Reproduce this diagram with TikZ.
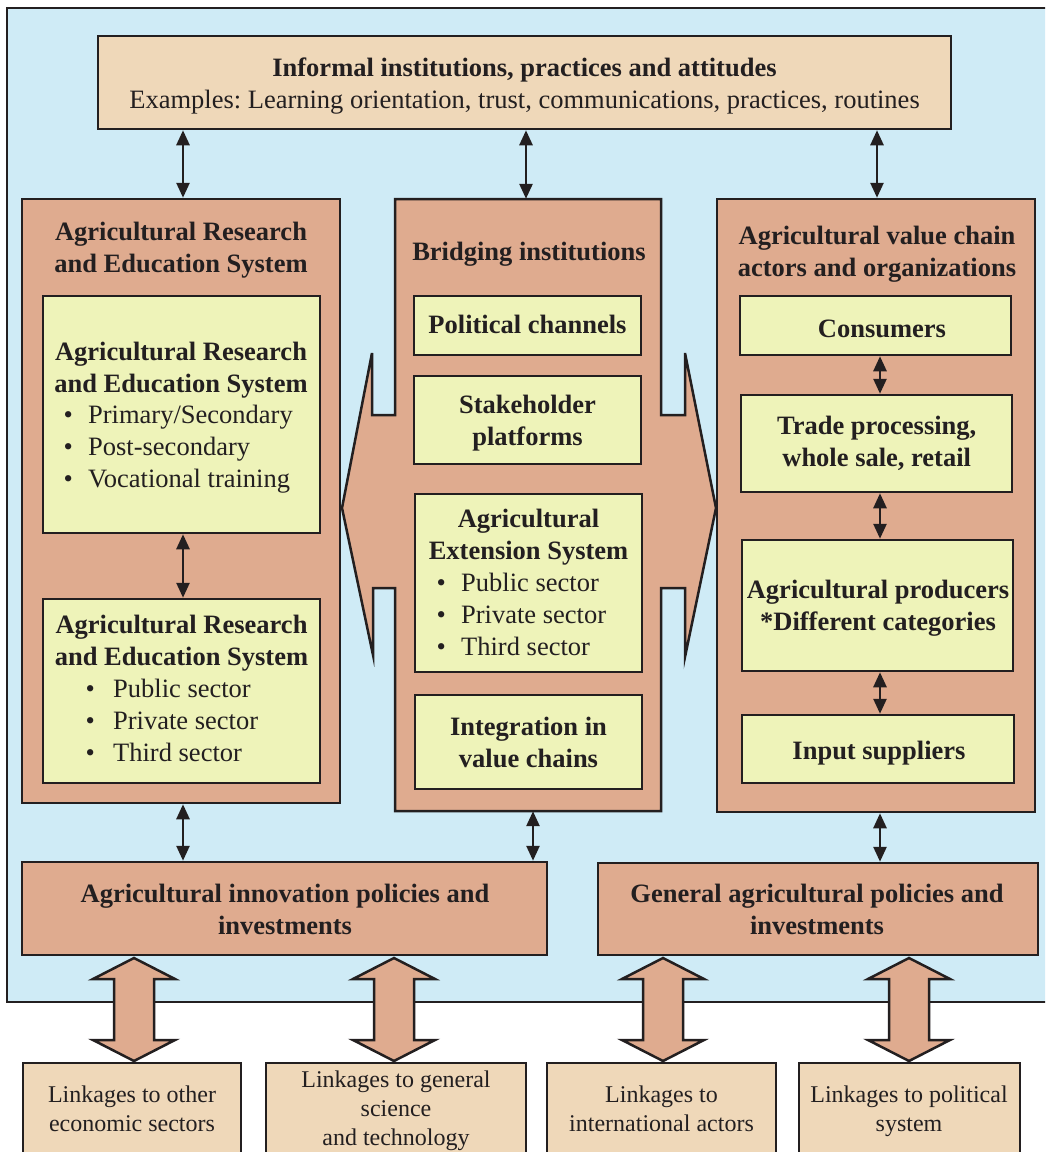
\documentclass[tikz,border=0pt]{standalone}
\usepackage{fontspec}
\setmainfont{Liberation Serif}
\usetikzlibrary{arrows.meta}
\definecolor{bluebg}{HTML}{CFEBF6}
\definecolor{wheatc}{HTML}{EFD8B9}
\definecolor{salmonc}{HTML}{DFAB8F}
\definecolor{yellowc}{HTML}{EEF3B9}
\definecolor{darkc}{HTML}{231F20}
\newcommand\mybul[2]{\makebox[#1][l]{\textbullet}#2}
\frenchspacing
\begin{document}
\begin{tikzpicture}[x=1pt,y=-1pt,
  box/.style={draw=darkc, line width=2.5pt, inner sep=0pt, anchor=center},
  wbox/.style={box, fill=wheatc},
  sbox/.style={box, fill=salmonc},
  ybox/.style={box, fill=yellowc},
  txt/.style={inner sep=0pt, align=center, text=darkc, font=\fontsize{26.5}{32}\selectfont\frenchspacing},
  lst/.style={inner sep=0pt, align=left, anchor=west, text=darkc, font=\fontsize{26.5}{32}\selectfont\frenchspacing},
  smtxt/.style={inner sep=0pt, align=center, text=darkc, font=\fontsize{24}{29}\selectfont\frenchspacing},
  dbl/.style={draw=darkc, line width=2.6pt, {Triangle[length=15pt,width=13pt]}-{Triangle[length=15pt,width=13pt]}},
  blockarr/.pic={\draw[draw=darkc, fill=salmonc, line width=2.5pt] (0,0) -- (41,21) -- (20,21) -- (20,82) -- (41,82) -- (0,103) -- (-41,82) -- (-20,82) -- (-20,21) -- (-41,21) -- cycle;}
]
\clip (0,0) rectangle (1045,1152);
\useasboundingbox (0,0) rectangle (1045,1152);
\fill[white] (0,0) rectangle (1045,1152);
% background
\draw[draw=darkc, fill=bluebg, line width=2.5pt] (7,8) rectangle (1070,1002);
% top box
\node[wbox, minimum width=853, minimum height=93] (T) at (524.5,82.5) {};
% columns
\node[sbox, minimum width=318, minimum height=604] (L) at (181,501) {};
\node[sbox, minimum width=318, minimum height=613] (R) at (876,505.5) {};
\draw[draw=darkc, fill=salmonc, line width=2.5pt] (395,199) -- (661,199) -- (661,415) -- (685,415) -- (685,353) -- (716,508) -- (685,657) -- (685,588) -- (661,588) -- (661,811) -- (395,811) -- (395,588) -- (373,588) -- (373,655) -- (342,508) -- (372,353) -- (372,415) -- (395,415) -- cycle;
\node[inner sep=0pt, minimum width=266, minimum height=612] (M) at (528,505) {};
% inner boxes
\node[ybox, minimum width=277, minimum height=237] (L1) at (181.5,414.5) {};
\node[ybox, minimum width=277, minimum height=184] (L2) at (181.5,691) {};
\node[ybox, minimum width=227, minimum height=59] (M1) at (527.5,325.5) {};
\node[ybox, minimum width=227, minimum height=88] (M2) at (527.5,420) {};
\node[ybox, minimum width=227, minimum height=178] (M3) at (528.5,583) {};
\node[ybox, minimum width=227, minimum height=94] (M4) at (528.5,742) {};
\node[ybox, minimum width=271, minimum height=59] (R1) at (875.5,325.5) {};
\node[ybox, minimum width=271, minimum height=97] (R2) at (876.5,443.5) {};
\node[ybox, minimum width=271, minimum height=131] (R3) at (877.5,605.5) {};
\node[ybox, minimum width=272, minimum height=68] (R4) at (878,749) {};
% policy boxes
\node[sbox, minimum width=525, minimum height=93] (P1) at (284.5,908.5) {};
\node[sbox, minimum width=440, minimum height=92] (P2) at (818,909) {};
% bottom boxes
\node[wbox, minimum width=218, minimum height=107] (B1) at (132,1116.5) {};
\node[wbox, minimum width=260, minimum height=107] (B2) at (396,1116.5) {};
\node[wbox, minimum width=229, minimum height=107] (B3) at (661.5,1116.5) {};
\node[wbox, minimum width=221, minimum height=107] (B4) at (909.5,1116.5) {};
% block arrows
\pic at (134,958) {blockarr};
\pic at (394,958) {blockarr};
\pic at (663,958) {blockarr};
\pic at (909,958) {blockarr};
% thin arrows
\coordinate (xl) at (183,0);
\coordinate (xm) at (526,0);
\coordinate (xmb) at (533,0);
\coordinate (xr) at (880,0);
\coordinate (xrt) at (877,0);
\draw[dbl] (T.south -| xl) -- (L.north -| xl);
\draw[dbl] (T.south -| xm) -- (M.north -| xm);
\draw[dbl] (T.south -| xrt) -- (R.north -| xrt);
\draw[dbl] (L1.south -| xl) -- (L2.north -| xl);
\draw[dbl] (L.south -| xl) -- (P1.north -| xl);
\draw[dbl] (M.south -| xmb) -- (P1.north -| xmb);
\draw[dbl] (R.south -| xr) -- (P2.north -| xr);
\draw[dbl] (R1.south -| xr) -- (R2.north -| xr);
\draw[dbl] (R2.south -| xr) -- (R3.north -| xr);
\draw[dbl] (R3.south -| xr) -- (R4.north -| xr);
% texts
\node[txt] (tT) at (524.5,85.6) {\textbf{Informal institutions, practices and attitudes}\strut\\Examples: Learning orientation, trust, communications, practices, routines\strut};
\node[txt] (tL) at (181,250.1) {\textbf{Agricultural Research}\strut\\\textbf{and Education System}\strut};
\node[txt] (tL1) at (181,369.6) {\textbf{Agricultural Research}\strut\\\textbf{and Education System}\strut};
\node[lst] (bL1) at (63.5,448.6) {\mybul{24.5pt}{Primary/Secondary}\strut\\\mybul{24.5pt}{Post-secondary}\strut\\\mybul{24.5pt}{Vocational training}\strut};
\node[txt] (tL2) at (181.5,642.6) {\textbf{Agricultural Research}\strut\\\textbf{and Education System}\strut};
\node[lst] (bL2) at (85.5,722.6) {\mybul{27.5pt}{Public sector}\strut\\\mybul{27.5pt}{Private sector}\strut\\\mybul{27.5pt}{Third sector}\strut};
\node[txt] (tM) at (529,253.6) {\textbf{Bridging institutions}\strut};
\node[txt] (tM1) at (527.5,326.6) {\textbf{Political channels}\strut};
\node[txt] (tM2) at (527.5,422.6) {\textbf{Stakeholder}\strut\\\textbf{platforms}\strut};
\node[txt] (tM3) at (528.5,536.6) {\textbf{Agricultural}\strut\\\textbf{Extension System}\strut};
\node[lst] (bM3) at (436.5,616.6) {\mybul{24.5pt}{Public sector}\strut\\\mybul{24.5pt}{Private sector}\strut\\\mybul{24.5pt}{Third sector}\strut};
\node[txt] (tM4) at (528.5,744.6) {\textbf{Integration in}\strut\\\textbf{value chains}\strut};
\node[txt] (tR) at (877,253.6) {\textbf{Agricultural value chain}\strut\\\textbf{actors and organizations}\strut};
\node[txt] (tR1) at (882,330.6) {\textbf{Consumers}\strut};
\node[txt] (tR2) at (876.7,443.6) {\textbf{Trade processing,}\strut\\\textbf{whole sale, retail}\strut};
\node[txt] (tR3) at (878,608.1) {\textbf{Agricultural producers}\strut\\\textbf{*Different categories}\strut};
\node[txt] (tR4) at (879,752.6) {\textbf{Input suppliers}\strut};
\node[txt] (tP1) at (285,911.6) {\textbf{Agricultural innovation policies and}\strut\\\textbf{investments}\strut};
\node[txt] (tP2) at (817,911.6) {\textbf{General agricultural policies and}\strut\\\textbf{investments}\strut};
\node[smtxt] (tB1) at (132,1111.2) {Linkages to other\strut\\economic sectors\strut};
\node[smtxt] (tB2) at (396,1110.2) {Linkages to general\strut\\science\strut\\and technology\strut};
\node[smtxt] (tB3) at (661.5,1110.7) {Linkages to\strut\\international actors\strut};
\node[smtxt] (tB4) at (909,1110.7) {Linkages to political\strut\\system\strut};
\end{tikzpicture}
\end{document}
